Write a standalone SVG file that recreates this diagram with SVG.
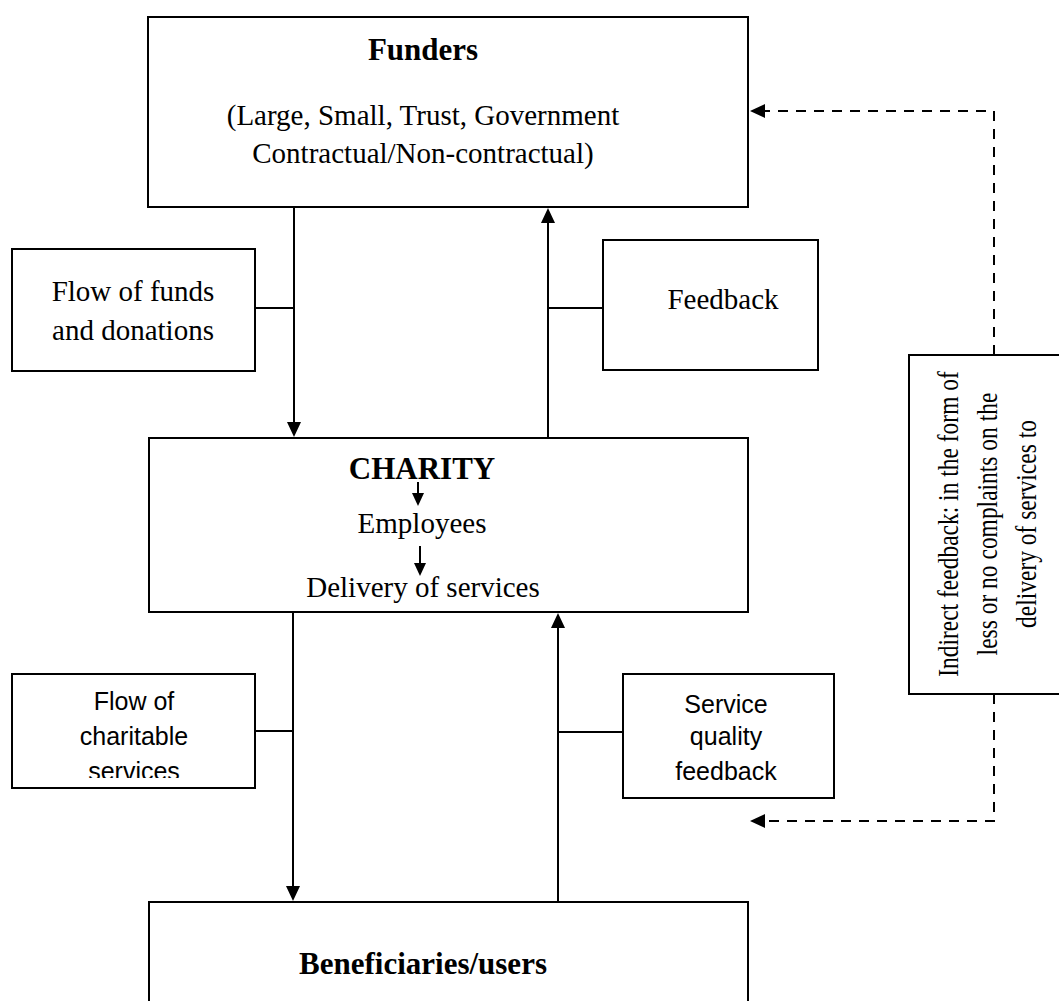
<svg xmlns="http://www.w3.org/2000/svg" width="1059" height="1001" viewBox="0 0 1059 1001">
<style>
.box{fill:#fff;stroke:#000;stroke-width:2}
.ln{fill:none;stroke:#000;stroke-width:2}
.dash{fill:none;stroke:#000;stroke-width:2;stroke-dasharray:10 8}
.t{font-family:"Liberation Serif","Times New Roman",serif;font-size:29px;fill:#000;text-anchor:middle}
.b{font-family:"Liberation Serif","Times New Roman",serif;font-size:31px;font-weight:bold;fill:#000;text-anchor:middle}
.s{font-family:"Liberation Sans",Arial,sans-serif;font-size:25px;fill:#000;text-anchor:middle}
</style>
<defs>
<marker id="arr" markerUnits="userSpaceOnUse" markerWidth="15" markerHeight="14" refX="7" refY="7" orient="auto">
<path d="M0,0 L15,7 L0,14 z" fill="#000"/>
</marker>
<marker id="arrs" markerUnits="userSpaceOnUse" markerWidth="13" markerHeight="12" refX="6" refY="6" orient="auto">
<path d="M0,0 L13,6 L0,12 z" fill="#000"/>
</marker>
<clipPath id="clipServ"><rect x="12" y="674" width="243" height="104"/></clipPath>
</defs>
<rect width="1059" height="1001" fill="#fff"/>

<g id="connectors">
<line class="ln" x1="294" y1="207" x2="294" y2="429" marker-end="url(#arr)"/>
<line class="ln" x1="548" y1="438" x2="548" y2="216" marker-end="url(#arr)"/>
<line class="ln" x1="293" y1="612" x2="293" y2="893" marker-end="url(#arr)"/>
<line class="ln" x1="558" y1="902" x2="558" y2="621" marker-end="url(#arr)"/>
<line class="ln" x1="255" y1="308" x2="294" y2="308"/>
<line class="ln" x1="548" y1="308" x2="603" y2="308"/>
<line class="ln" x1="255" y1="731" x2="293" y2="731"/>
<line class="ln" x1="558" y1="732" x2="623" y2="732"/>
<polyline class="dash" points="994,355 994,111 758,111" marker-end="url(#arr)"/>
<polyline class="dash" points="994,694 994,821 758,821" marker-end="url(#arr)"/>
</g>

<g id="funders">
<rect class="box" x="148" y="17" width="600" height="190"/>
<text class="b" x="423" y="60">Funders</text>
<text class="t" x="423" y="125">(Large, Small, Trust, Government</text>
<text class="t" x="423" y="163">Contractual/Non-contractual)</text>
</g>

<g id="flow-funds">
<rect class="box" x="12" y="249" width="243" height="122"/>
<text class="t" x="133" y="301">Flow of funds</text>
<text class="t" x="133" y="340">and donations</text>
</g>

<g id="feedback">
<rect class="box" x="603" y="240" width="215" height="130"/>
<text class="t" x="723" y="309">Feedback</text>
</g>

<g id="charity">
<rect class="box" x="149" y="438" width="599" height="174"/>
<text class="b" x="422" y="479">CHARITY</text>
<line class="ln" x1="418" y1="482" x2="418" y2="499" marker-end="url(#arrs)"/>
<text class="t" x="422" y="533">Employees</text>
<line class="ln" x1="420" y1="546" x2="420" y2="569" marker-end="url(#arrs)"/>
<text class="t" x="423" y="597">Delivery of services</text>
</g>

<g id="flow-services">
<rect class="box" x="12" y="674" width="243" height="114"/>
<text class="s" x="134" y="710">Flow of</text>
<text class="s" x="134" y="745">charitable</text>
<text class="s" x="134" y="780" clip-path="url(#clipServ)">services</text>
</g>

<g id="service-quality">
<rect class="box" x="623" y="674" width="211" height="124"/>
<text class="s" x="726" y="713">Service</text>
<text class="s" x="726" y="745">quality</text>
<text class="s" x="726" y="780">feedback</text>
</g>

<g id="indirect">
<rect class="box" x="909" y="355" width="170" height="339"/>
<text class="t" transform="translate(958,524) rotate(-90) scale(0.81,1)">Indirect feedback: in the form of</text>
<text class="t" transform="translate(997,524) rotate(-90) scale(0.81,1)">less or no complaints on the</text>
<text class="t" transform="translate(1036,524) rotate(-90) scale(0.81,1)">delivery of services to</text>
</g>

<g id="beneficiaries">
<rect class="box" x="149" y="902" width="599" height="120"/>
<text class="b" x="423" y="974">Beneficiaries/users</text>
</g>
</svg>
